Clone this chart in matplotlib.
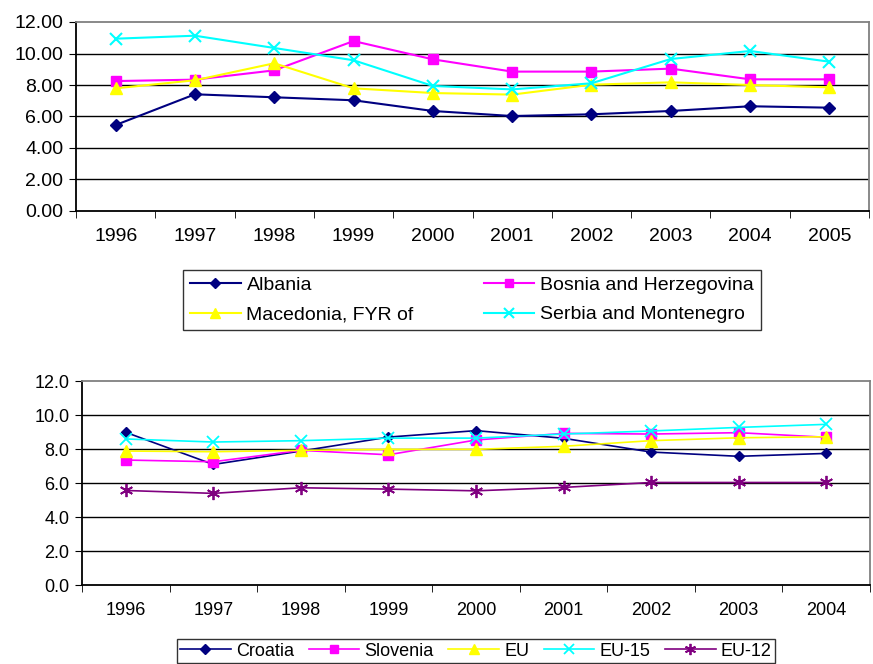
import matplotlib
matplotlib.use("Agg")
import matplotlib.pyplot as plt
import numpy as np

plt.rcParams['font.family'] = ['Liberation Sans', 'DejaVu Sans']

years_top = ["1996", "1997", "1998", "1999", "2000", "2001", "2002", "2003", "2004", "2005"]
albania = [5.46, 7.41, 7.22, 7.03, 6.35, 6.03, 6.14, 6.35, 6.65, 6.56]
bosnia = [8.25, 8.34, 8.93, 10.79, 9.63, 8.85, 8.85, 9.04, 8.36, 8.36]
macedonia = [7.79, 8.30, 9.38, 7.79, 7.49, 7.39, 8.02, 8.17, 8.00, 7.85]
serbia = [10.94, 11.13, 10.35, 9.57, 7.94, 7.72, 8.11, 9.65, 10.16, 9.48]

years_bot = ["1996", "1997", "1998", "1999", "2000", "2001", "2002", "2003", "2004"]
croatia = [8.98, 7.09, 7.88, 8.70, 9.08, 8.63, 7.82, 7.57, 7.74]
slovenia = [7.35, 7.25, 7.92, 7.66, 8.53, 8.92, 8.88, 8.96, 8.69]
eu = [7.88, 7.84, 7.92, 7.98, 7.98, 8.16, 8.49, 8.66, 8.72]
eu15 = [8.59, 8.41, 8.49, 8.64, 8.64, 8.88, 9.06, 9.27, 9.45]
eu12 = [5.56, 5.39, 5.72, 5.64, 5.54, 5.74, 6.03, 6.03, 6.03]

NAVY = "#000080"
MAG = "#FF00FF"
YEL = "#FFFF00"
CYAN = "#00FFFF"
PURP = "#800080"
ASTER = (6, 2, 0)

fig = plt.figure(figsize=(8.73, 6.64), dpi=100)

def style_axes(ax, n, fmt, fontsize):
    ax.set_xlim(-0.5, n - 0.5)
    ax.set_ylim(0, 12)
    ax.set_yticks(np.arange(0, 13, 2))
    ax.set_yticklabels([fmt.format(v) for v in np.arange(0, 13, 2)], fontsize=fontsize)
    ax.set_xticks(np.arange(n))
    ax.tick_params(axis='x', which='major', length=0, pad=12)
    ax.set_xticks(np.arange(n + 1) - 0.5, minor=True)
    ax.tick_params(axis='x', which='minor', length=5, direction='out', color='black')
    ax.tick_params(axis='y', length=5, direction='out', color='black', pad=4)
    for y in range(2, 12, 2):
        ax.axhline(y, color='black', lw=1.0, zorder=0)
    for s in ('left', 'bottom'):
        ax.spines[s].set_color('black')
        ax.spines[s].set_linewidth(1.3)
    for s in ('top', 'right'):
        ax.spines[s].set_color('#808080')
        ax.spines[s].set_linewidth(1.3)

# Top chart
ax1 = fig.add_axes([76/873, 1 - 211/664, (869 - 76)/873, (211 - 22)/664])
x1 = np.arange(len(years_top))
lw1 = 1.5
ax1.plot(x1, albania, color=NAVY, lw=lw1, marker='D', ms=6.5, label="Albania")
ax1.plot(x1, bosnia, color=MAG, lw=lw1, marker='s', ms=7.5, label="Bosnia and Herzegovina")
ax1.plot(x1, macedonia, color=YEL, lw=lw1, marker='^', ms=9, label="Macedonia, FYR of")
ax1.plot(x1, serbia, color=CYAN, lw=lw1, marker='x', ms=9, mew=1.5, label="Serbia and Montenegro")
style_axes(ax1, len(years_top), "{:.2f}", 14)
ax1.set_xticklabels(years_top, fontsize=14)

h, l = ax1.get_legend_handles_labels()
order = [0, 2, 1, 3]
leg1 = fig.legend([h[i] for i in order], [l[i] for i in order], ncol=2,
                  loc='center', bbox_to_anchor=((182 + 762) / 2 / 873, 1 - 300 / 664),
                  fontsize=14, frameon=True, fancybox=False, edgecolor='black',
                  handlelength=2.6, columnspacing=3.6, borderpad=0.35, labelspacing=0.6,
                  handletextpad=0.3, markerscale=0.75)
leg1.get_frame().set_linewidth(1.0)

# Bottom chart
ax2 = fig.add_axes([82/873, 1 - 585/664, (870 - 82)/873, (585 - 381)/664])
x2 = np.arange(len(years_bot))
lw2 = 1.2
ax2.plot(x2, croatia, color=NAVY, lw=lw2, marker='D', ms=5.5, label="Croatia", zorder=3)
ax2.plot(x2, slovenia, color=MAG, lw=lw2, marker='s', ms=7, label="Slovenia", zorder=3)
ax2.plot(x2, eu, color=YEL, lw=lw2, marker='^', ms=8.5, label="EU", zorder=3)
ax2.plot(x2, eu15, color=CYAN, lw=lw2, marker='x', ms=8.5, mew=1.3, label="EU-15", zorder=3)
ax2.plot(x2, eu12, color=PURP, lw=lw2, marker=ASTER, ms=9.5, mew=1.3, label="EU-12", zorder=3)
style_axes(ax2, len(years_bot), "{:.1f}", 13)
ax2.set_xticklabels(years_bot, fontsize=13)

leg2 = fig.legend(*ax2.get_legend_handles_labels(), ncol=5,
                  loc='upper center', bbox_to_anchor=((177 + 775) / 2 / 873, 1 - 639 / 664),
                  fontsize=13, frameon=True, fancybox=False, edgecolor='black',
                  handlelength=2.8, columnspacing=0.8, borderpad=0.2, borderaxespad=0,
                  handletextpad=0.3, markerscale=0.85)
leg2.get_frame().set_linewidth(1.0)

fig.savefig("out.png", dpi=100)
